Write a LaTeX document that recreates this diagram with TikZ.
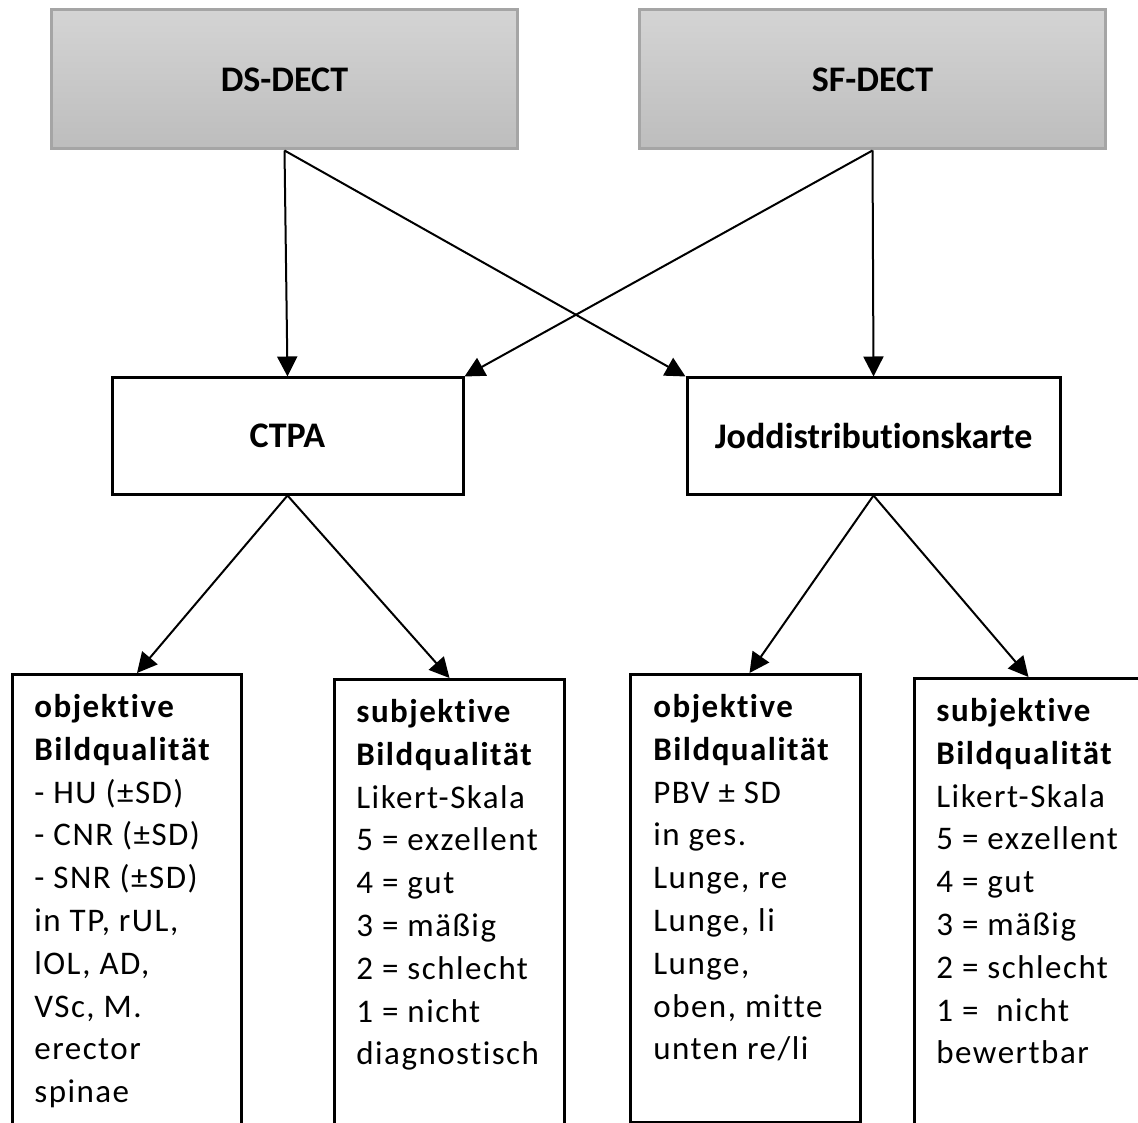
\documentclass[tikz,border=0pt]{standalone}
\usepackage{fontspec}
\setmainfont{Carlito}[Ligatures=NoCommon]
\newfontfamily\boxfont[LetterSpace=4.5,Ligatures=NoCommon]{Carlito}
\usetikzlibrary{arrows.meta}
\definecolor{modtop}{HTML}{D4D4D4}
\definecolor{modbot}{HTML}{BDBDBD}
\definecolor{modline}{HTML}{A5A5A5}

\begin{document}
\begin{tikzpicture}[x=0.5pt,y=-0.5pt,
    modality/.style={draw=modline,line width=1.5pt,top color=modtop,bottom color=modbot,
      minimum width=233pt,minimum height=69.5pt,font=\fontsize{18}{20}\selectfont\bfseries},
    recon/.style={draw,line width=1.5pt,fill=white,minimum height=58pt,
      font=\fontsize{18}{20}\selectfont\bfseries},
    result/.style={draw,line width=1.5pt,anchor=north west,inner sep=0pt},
    boxtext/.style={anchor=north west,inner sep=0pt,align=left,
      font=\boxfont\fontsize{16.5}{21.4}\selectfont},
    arr/.style={-{Triangle[length=10pt,width=10pt]},line width=1pt}]
\clip (0,0) rectangle (1138,1122);
\node[modality] (ds) at (284.5,79.5) {DS-DECT};
\node[modality] (sf) at (872.5,79.5) {SF-DECT};
\node[recon,minimum width=175.5pt] (ctpa) at (287.5,436) {CTPA};
\node[recon,minimum width=186.5pt] (jodd) at (873.5,436) {Joddistributionskarte};
\node[result,minimum width=114.5pt,minimum height=240pt] (objA) at (11,673) {};
\node[result,minimum width=115pt,minimum height=240pt] (subA) at (333,678) {};
\node[result,minimum width=115pt,minimum height=224pt] (objB) at (629,673) {};
\node[result,minimum width=114pt,minimum height=240pt] (subB) at (913,677) {};
\draw[arr] (ds.south) -- (ctpa.north);
\draw[arr] (ds.south) -- (jodd.north west);
\draw[arr] (sf.south) -- (ctpa.north east);
\draw[arr] (sf.south) -- (jodd.north);
\draw[arr] (ctpa.south) -- ([xshift=5pt]objA.north);
\draw[arr] (ctpa.south) -- (subA.north);
\draw[arr] (jodd.south) -- ([xshift=2pt]objB.north);
\draw[arr] (jodd.south) -- (subB.north);
\node[boxtext] at ([shift={(23,21)}]objA.north west)
  {\textbf{objektive}\\\textbf{Bildqualität}\\- HU (±SD)\\- CNR (±SD)\\- SNR (±SD)\\in TP, rUL,\\lOL, AD,\\VSc, M.\\erector\\spinae};
\node[boxtext] at ([shift={(23,21)}]subA.north west)
  {\textbf{subjektive}\\\textbf{Bildqualität}\\Likert-Skala\\5 = exzellent\\4 = gut\\3 = mäßig\\2 = schlecht\\1 = nicht\\diagnostisch};
\node[boxtext] at ([shift={(24,21)}]objB.north west)
  {\textbf{objektive}\\\textbf{Bildqualität}\\PBV ± SD\\in ges.\\Lunge, re\\Lunge, li\\Lunge,\\oben, mitte\\unten re/li};
\node[boxtext] at ([shift={(23,21)}]subB.north west)
  {\textbf{subjektive}\\\textbf{Bildqualität}\\Likert-Skala\\5 = exzellent\\4 = gut\\3 = mäßig\\2 = schlecht\\1 =~~nicht\\bewertbar};
\end{tikzpicture}
\end{document}
